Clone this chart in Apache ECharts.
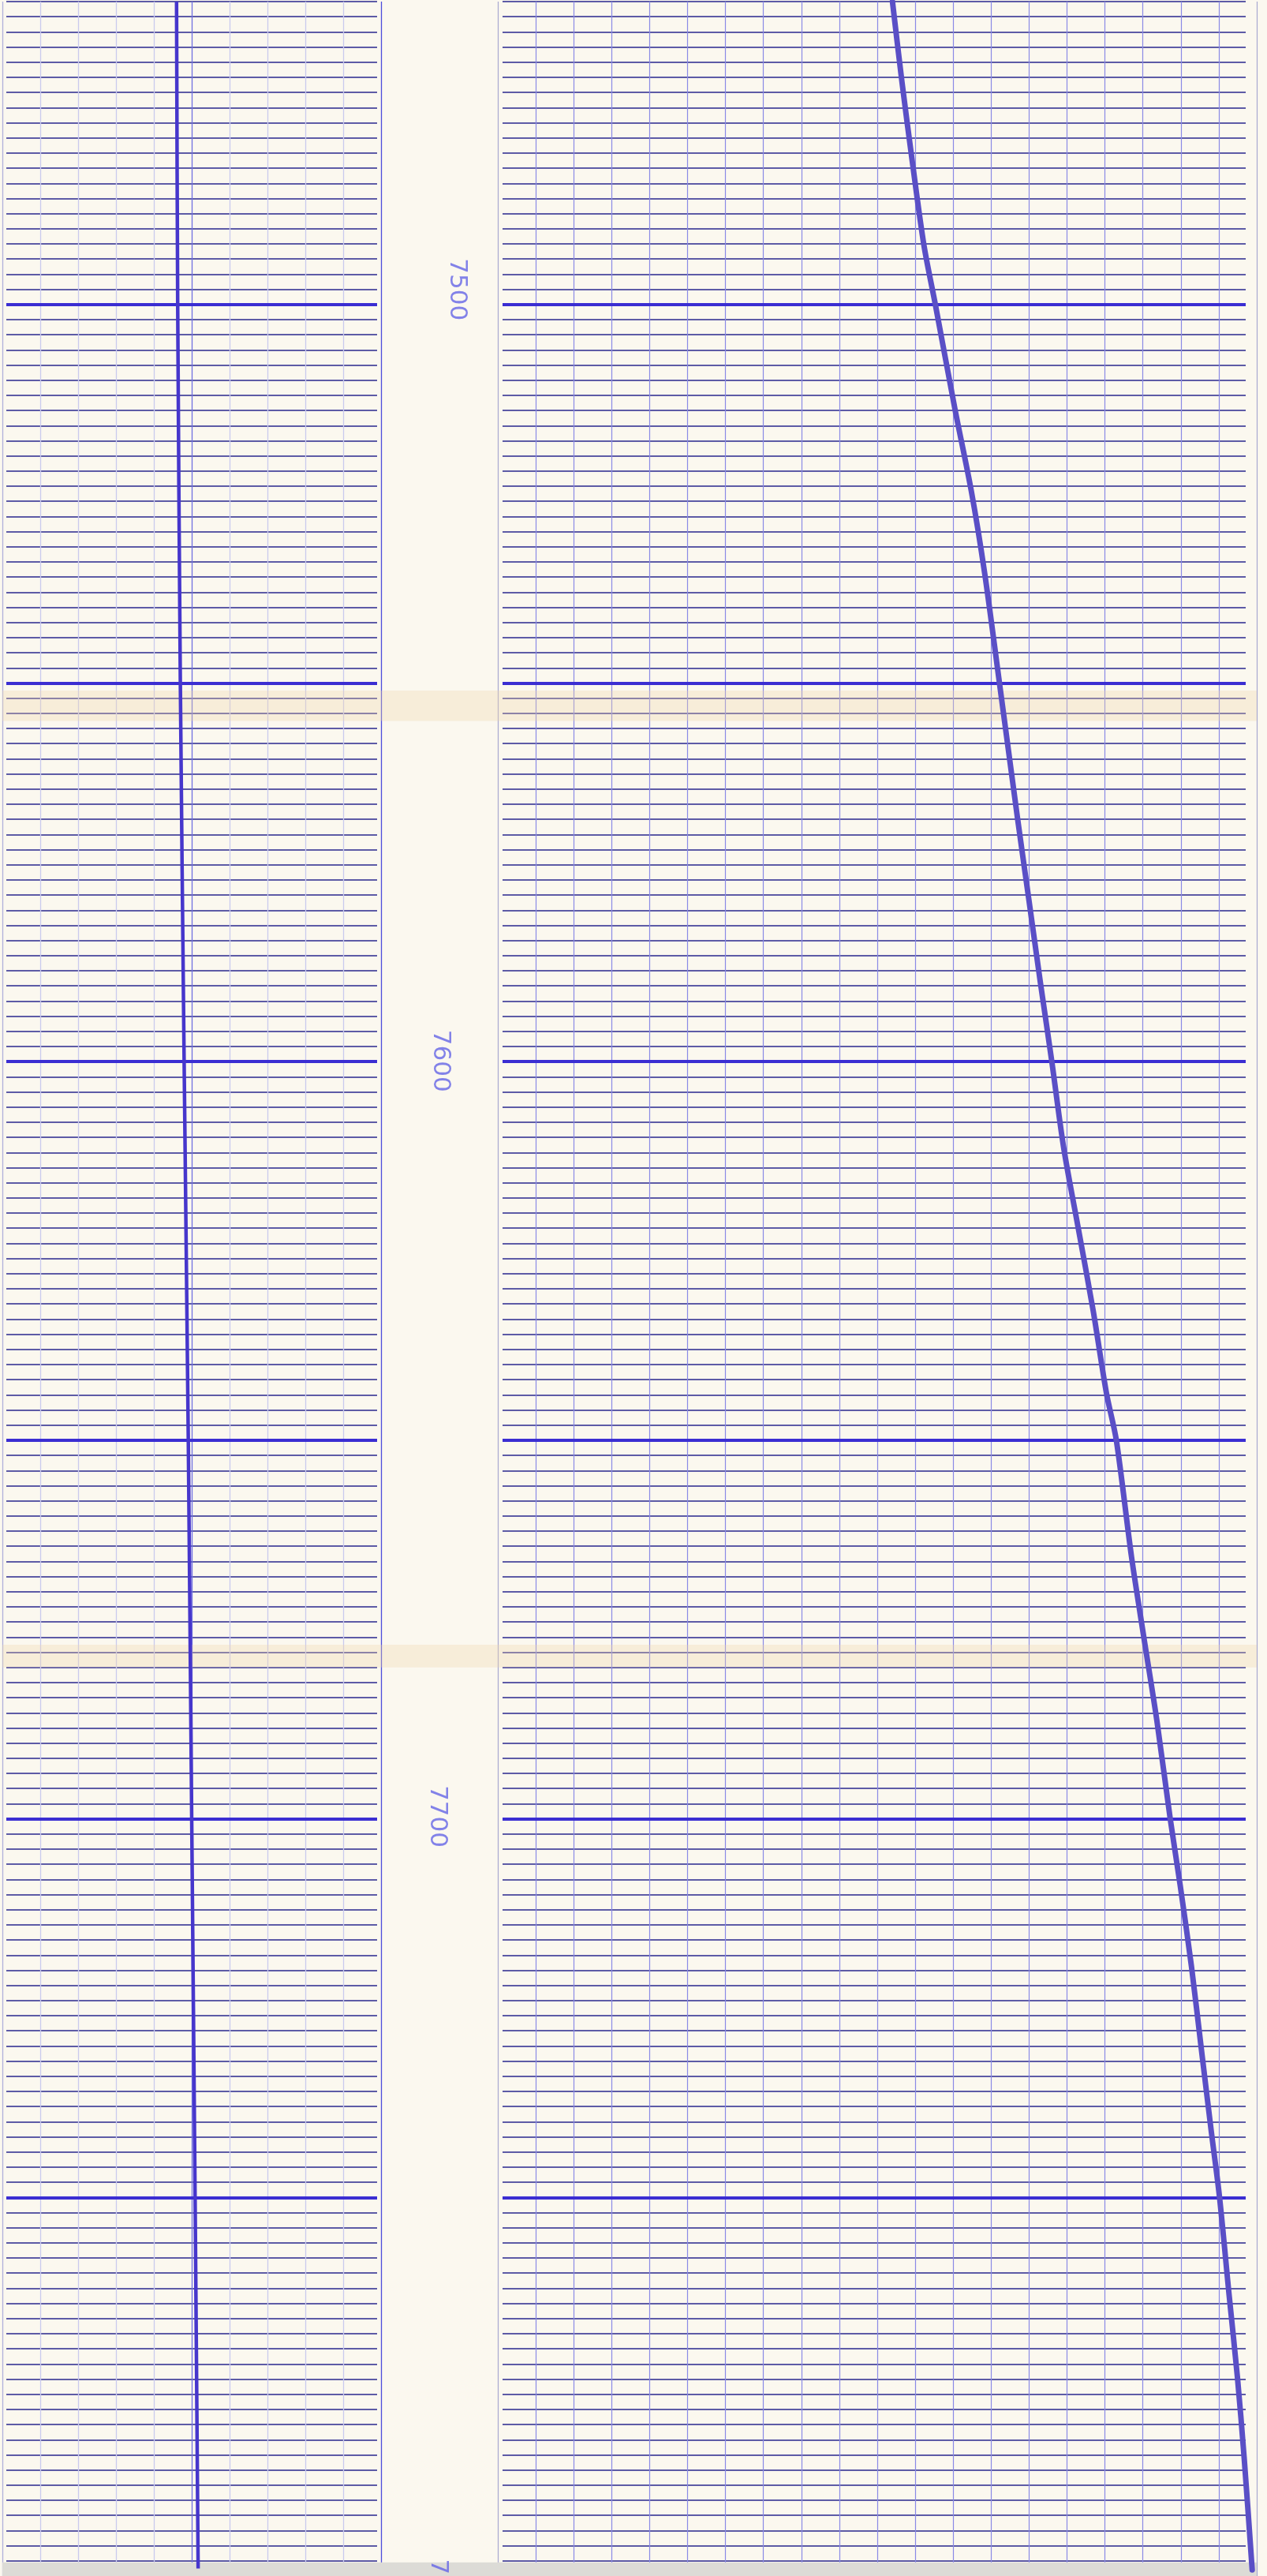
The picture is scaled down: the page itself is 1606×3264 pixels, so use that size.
<!DOCTYPE html>
<html>
<head>
<meta charset="utf-8">
<style>
  html, body { margin: 0; padding: 0; background: #fbf8ef; overflow: hidden; }
  #chart { width: 1606px; height: 3264px; }
</style>
<script src="https://cdn.jsdelivr.net/npm/echarts@6/dist/echarts.min.js"></script>
</head>
<body>
<div id="chart"></div>
<script>
// depth range of the strip (ft)
const depthMin = 7460;
const depthMax = 7800;

// left track curve (track divisions 0..10)
const leftDepth = [7460, 7500, 7550, 7600, 7650, 7700, 7750, 7799];
const leftCurve = [4.60, 4.63, 4.70, 4.80, 4.91, 5.00, 5.09, 5.17];

// right track curve (track divisions 0..20)
const rightDepth = [7460, 7470.6, 7481.4, 7492.2, 7500, 7513.9, 7524.7, 7535.5, 7550, 7568, 7578.8, 7589.6, 7600,
  7611.3, 7622.1, 7632.9, 7643.8, 7650, 7665.4, 7676.2, 7687.1, 7700, 7708.7, 7719.5, 7730.4, 7741.2, 7750,
  7762.8, 7773.7, 7784.5, 7799.2];
const rightCurve = [10.40, 10.65, 10.93, 11.23, 11.53, 12.05, 12.48, 12.83, 13.22, 13.70, 14.00, 14.30, 14.60,
  14.91, 15.30, 15.69, 16.04, 16.30, 16.70, 17.03, 17.37, 17.72, 17.98, 18.28, 18.54, 18.80, 19.02,
  19.27, 19.49, 19.67, 19.88];

// depth tick labels in the middle column
const depthLabels = [7500, 7600, 7700, 7800];
// heavy grid lines
const heavyDepths = [7500, 7550, 7600, 7650, 7700, 7750];
// paper folds
const foldBands = [[7551, 7555], [7677, 7680]];
// grey scanner edge at the bottom
const scanEdge = [7798.2, 7800];

const chart = echarts.init(document.getElementById("chart"));

const vTop = 2, vBottom = -9;

function depthAxis(gridIndex, lines) {
  return {
    type: "value",
    gridIndex: gridIndex,
    min: depthMin,
    max: depthMax,
    interval: 2,
    inverse: true,
    axisLine: { show: false },
    axisTick: { show: false },
    axisLabel: { show: false },
    splitLine: lines
      ? { show: true, lineStyle: { color: "#5d5ba6", width: 1.8 } }
      : { show: false },
  };
}

function hiddenX(gridIndex) {
  return { type: "value", gridIndex: gridIndex, min: 0, max: 1, show: false };
}

// vertical grid colours, one per division line
const leftVColors = [];
for (let i = 0; i <= 10; i++) {
  leftVColors.push(i === 0 ? "#b0b0da" : i === 5 ? "#7070e0" : i === 10 ? "#4c4cdc" : "#cacaee");
}
const rightVColors = [];
for (let i = 0; i <= 20; i++) {
  rightVColors.push(i === 0 || i === 20 ? "#a8a8d0" : "#8a8ae6");
}

const paperMarks = {
  silent: true,
  data: foldBands
    .map((b) => [{ yAxis: b[0], itemStyle: { color: "rgba(238, 214, 170, 0.32)" } }, { yAxis: b[1] }])
    .concat([[{ yAxis: scanEdge[0], itemStyle: { color: "#dcdbd6" } }, { yAxis: scanEdge[1] }]]),
};

const heavy = {
  silent: true,
  symbol: "none",
  label: { show: false },
  lineStyle: { color: "#3b2ed2", width: 4, type: "solid" },
  data: heavyDepths.map((d) => ({ yAxis: d })),
};

// horizontal placement / nudge of each depth label, to sit as printed
const labelX = { 7500: 0.65, 7600: 0.51, 7700: 0.48, 7800: 0.49 };
const labelDy = { 7500: -19, 7600: -1, 7700: -3, 7800: 18 };

const option = {
  backgroundColor: "#fbf8ef",
  animation: false,
  grid: [
    // 0 left track frame
    { left: 3, width: 480, top: vTop, bottom: vBottom },
    // 1 left track horizontal lines
    { left: 8, width: 470, top: vTop, bottom: vBottom },
    // 2 right track frame
    { left: 631, width: 962, top: vTop, bottom: vBottom },
    // 3 right track horizontal lines
    { left: 637, width: 942, top: vTop, bottom: vBottom },
    // 4 depth column
    { left: 483, width: 148, top: vTop, bottom: vBottom },
  ],
  xAxis: [
    {
      type: "value",
      gridIndex: 0,
      min: 0,
      max: 10,
      interval: 1,
      axisLine: { show: false },
      axisTick: { show: false },
      axisLabel: { show: false },
      splitLine: { show: true, lineStyle: { color: leftVColors, width: 1.3 } },
    },
    hiddenX(1),
    {
      type: "value",
      gridIndex: 2,
      min: 0,
      max: 20,
      interval: 1,
      axisLine: { show: false },
      axisTick: { show: false },
      axisLabel: { show: false },
      splitLine: { show: true, lineStyle: { color: rightVColors, width: 1.2 } },
    },
    hiddenX(3),
    hiddenX(4),
  ],
  yAxis: [depthAxis(0, false), depthAxis(1, true), depthAxis(2, false), depthAxis(3, true), depthAxis(4, false)],
  series: [
    {
      type: "line",
      xAxisIndex: 1,
      yAxisIndex: 1,
      data: [],
      markLine: heavy,
    },
    {
      type: "line",
      xAxisIndex: 3,
      yAxisIndex: 3,
      data: [],
      markLine: heavy,
    },
    {
      name: "left curve",
      type: "line",
      xAxisIndex: 0,
      yAxisIndex: 0,
      symbol: "none",
      smooth: 0.3,
      z: 5,
      lineStyle: { color: "#4636cc", width: 4.5 },
      data: leftDepth.map((d, i) => [leftCurve[i], d]),
      markArea: paperMarks,
    },
    {
      name: "right curve",
      type: "line",
      xAxisIndex: 2,
      yAxisIndex: 2,
      symbol: "none",
      smooth: 0.3,
      z: 5,
      lineStyle: { color: "#5a4fc6", width: 7, cap: "round", join: "round" },
      data: rightDepth.map((d, i) => [rightCurve[i], d]),
      markArea: paperMarks,
    },
    {
      name: "depth",
      type: "scatter",
      xAxisIndex: 4,
      yAxisIndex: 4,
      symbolSize: 1,
      z: 6,
      itemStyle: { color: "rgba(0,0,0,0)" },
      data: depthLabels.map((d) => ({
        value: [labelX[d], d],
        // label is rotated, so its own x runs down the page
        label: { offset: [labelDy[d], 0] },
      })),
      label: {
        show: true,
        position: "inside",
        rotate: -90,
        formatter: (p) => String(p.value[1]),
        color: "#6464e6",
        fontSize: 31,
        fontFamily: "DejaVu Sans",
      },
      markArea: paperMarks,
    },
  ],
};

chart.setOption(option);
</script>
</body>
</html>
